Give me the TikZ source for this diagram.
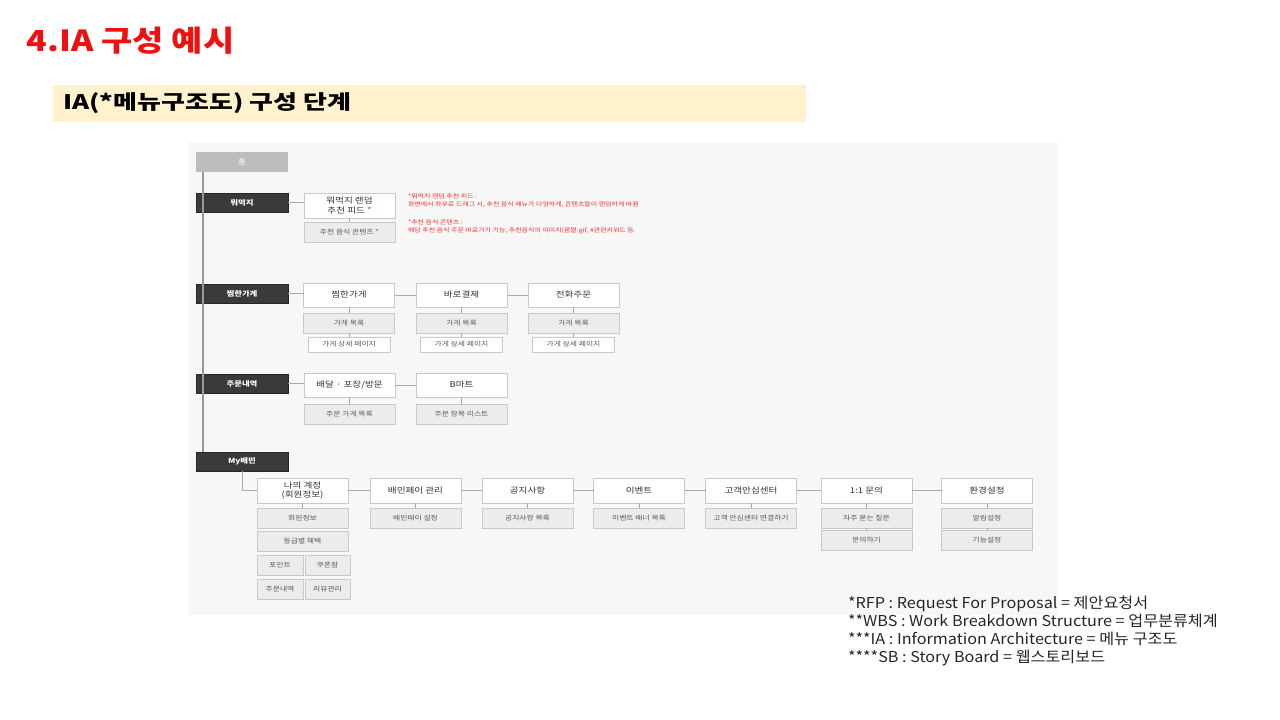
\documentclass[tikz,border=0pt]{standalone}
\usepackage{fontspec}
\setmainfont{Noto Sans CJK KR}
\newfontfamily\krtitle[FakeStretch=1.17]{Noto Sans CJK KR}
\newfontfamily\krsub[FakeStretch=1.3]{Noto Sans CJK KR}
\newfontfamily\krfoot[FakeStretch=1.08]{Noto Sans CJK KR}
\newfontfamily\krd[FakeStretch=1.2]{Noto Sans CJK KR}
\usetikzlibrary{calc}
\definecolor{titlered}{HTML}{F01010}
\definecolor{band}{HTML}{FFF2CC}
\definecolor{diagbg}{HTML}{F7F7F7}
\definecolor{catfill}{HTML}{3A3A3A}
\definecolor{homefill}{HTML}{BDBDBD}
\definecolor{boxline}{HTML}{C9C9C9}
\definecolor{subfill}{HTML}{ECECEC}
\definecolor{wire}{HTML}{AAAAAA}
\definecolor{notered}{HTML}{F03030}
\tikzset{
  every node/.style={inner sep=0pt, outer sep=0pt},
  homebox/.style={fill=homefill, text=white, minimum width=92pt, minimum height=20pt, font=\krd\fontsize{7}{8}\selectfont},
  catbox/.style={fill=catfill, draw=black!85, text=white, minimum width=92pt, minimum height=19pt, font=\krd\bfseries\fontsize{7}{8}\selectfont},
  mainbox/.style={fill=white, draw=boxline, minimum width=91pt, minimum height=25pt, align=center, text=black!80, font=\krd\fontsize{8}{9.5}\selectfont},
  subbox/.style={fill=subfill, draw=boxline, minimum width=91pt, minimum height=20pt, text=black!65, font=\krd\fontsize{6.5}{8}\selectfont},
  detailbox/.style={fill=white, draw=boxline, minimum width=82pt, minimum height=15pt, text=black!65, font=\krd\fontsize{6.5}{8}\selectfont},
  wirel/.style={draw=wire, line width=0.9pt},
  spine/.style={draw=black!40, line width=1.6pt},
  note/.style={anchor=north west, align=left, text=notered, font=\krd\fontsize{5.8}{8}\selectfont}
}
\begin{document}
\begin{tikzpicture}[x=1pt,y=-1pt]
\useasboundingbox (0,0) rectangle (1280,720);
\fill[white] (0,0) rectangle (1280,720);
% title
\node[anchor=west, text=titlered, font=\krtitle\bfseries\fontsize{29}{32}\selectfont] (title) at (27,41) {4.IA 구성 예시};
% band
\fill[band] (53,85) rectangle (806,122);
\node[anchor=west, text=black, font=\krsub\bfseries\fontsize{20}{24}\selectfont] (subtitle) at (63,103) {IA(*메뉴구조도) 구성 단계};
% diagram background
\fill[diagbg] (188,142) rectangle (1058,615);

% home and categories
\node[homebox] (home) at (242,162) {홈};
\node[catbox] (c1) at (242,202.5) {뭐먹지};
\node[catbox] (c2) at (242,293.5) {찜한가게};
\node[catbox] (c3) at (242,383.5) {주문내역};
\node[catbox] (c4) at (242,461.5) {My배민};
\draw[spine] ($(home.south west)+(7,0)$) -- ($(c4.north west)+(7,0)$);

% 뭐먹지
\node[mainbox] (feed) at (349.5,205.5) {뭐먹지 랜덤\\추천 피드 {\color{notered}*}};
\node[subbox] (content) at (349.5,232) {추천 음식 콘텐츠 {\color{notered}*}};
\draw[wirel] (c1.east) -- (c1.east -| feed.west);
\draw[wirel] (feed.south) -- (content.north);
\node[note] (note1) at (408,194) {*뭐먹지 랜덤 추천 피드 :\\ 화면에서 좌우로 드래그 시, 추천 음식 메뉴가 다양하게, 콘텐츠들이 랜덤하게 바뀜};
\node[note] (note2) at (408,220) {*추천 음식 콘텐츠 :\\ 해당 추천 음식 주문 바로가기 기능, 추천음식의 이미지(움짤.gif, \#관련키워드 등.};

% 찜한가게
\node[mainbox, minimum height=24pt] (z1) at (349,295) {찜한가게};
\node[mainbox, minimum height=24pt] (z2) at (461.5,295) {바로결제};
\node[mainbox, minimum height=24pt] (z3) at (573.5,295) {전화주문};
\draw[wirel] (c2.east) -- (c2.east -| z1.west);
\draw[wirel] (z1.east) -- (z2.west);
\draw[wirel] (z2.east) -- (z3.west);
\foreach \i in {1,2,3}{
  \node[subbox] (zl\i) at ($(z\i)+(0,28)$) {가게 목록};
  \node[detailbox] (zd\i) at ($(z\i)+(0,49.5)$) {가게 상세 페이지};
  \draw[wirel] (z\i.south) -- (zl\i.north);
  \draw[wirel] (zl\i.south) -- (zd\i.north);
}

% 주문내역
\node[mainbox, minimum height=24pt] (o1) at (349.5,385) {배달 · 포장/방문};
\node[mainbox, minimum height=24pt] (o2) at (461.5,385) {B마트};
\node[subbox] (ol1) at (349.5,414) {주문 가게 목록};
\node[subbox] (ol2) at (461.5,414) {주문 항목 리스트};
\draw[wirel] (c3.east) -- (c3.east -| o1.west);
\draw[wirel] (o1.east) -- (o2.west);
\draw[wirel] (o1.south) -- (ol1.north);
\draw[wirel] (o2.south) -- (ol2.north);

% My배민
\node[mainbox] (m1) at (302.5,490.5) {나의 계정\\(회원정보)};
\node[mainbox] (m2) at (415.5,490.5) {배민페이 관리};
\node[mainbox] (m3) at (527.5,490.5) {공지사항};
\node[mainbox] (m4) at (639,490.5) {이벤트};
\node[mainbox] (m5) at (751,490.5) {고객안심센터};
\node[mainbox] (m6) at (866.5,490.5) {1:1 문의};
\node[mainbox] (m7) at (987,490.5) {환경설정};
\draw[wirel] (c4.south) |- (m1.west);
\draw[wirel] (m1.east) -- (m2.west);
\draw[wirel] (m2.east) -- (m3.west);
\draw[wirel] (m3.east) -- (m4.west);
\draw[wirel] (m4.east) -- (m5.west);
\draw[wirel] (m5.east) -- (m6.west);
\draw[wirel] (m6.east) -- (m7.west);

\node[subbox] (a1) at (302.5,518) {회원정보};
\node[subbox] (a2) at (302.5,541) {등급별 혜택};
\node[subbox, minimum width=46pt] (a3) at (280,565) {포인트};
\node[subbox, minimum width=45pt] (a4) at (327.5,565) {쿠폰함};
\node[subbox, minimum width=46pt] (a5) at (280,589) {주문내역};
\node[subbox, minimum width=45pt] (a6) at (327.5,589) {리뷰관리};
\draw[wirel] (m1.south) -- (a1.north);

\node[subbox] (p1) at (415.5,518) {배민페이 설정};
\node[subbox] (n1) at (527.5,518) {공지사항 목록};
\node[subbox] (e1) at (639,518) {이벤트 배너 목록};
\node[subbox] (s1) at (751,518) {고객 안심센터 연결하기};
\node[subbox] (q1) at (866.5,518) {자주 묻는 질문};
\node[subbox] (q2) at (866.5,540) {문의하기};
\node[subbox] (g1) at (987,518) {알림설정};
\node[subbox] (g2) at (987,540) {기능설정};
\draw[wirel] (m2.south) -- (p1.north);
\draw[wirel] (m3.south) -- (n1.north);
\draw[wirel] (m4.south) -- (e1.north);
\draw[wirel] (m5.south) -- (s1.north);
\draw[wirel] (m6.south) -- (q1.north);
\draw[wirel] (q1.south) -- (q2.north);
\draw[wirel] (m7.south) -- (g1.north);
\draw[wirel] (g1.south) -- (g2.north);

% footnotes
\node[anchor=north west, align=left, text=black!85, font=\krfoot\fontsize{15}{18}\selectfont] (foot) at (848,596)
{*RFP : Request For Proposal = 제안요청서\\
**WBS : Work Breakdown Structure = 업무분류체계\\
***IA : Information Architecture = 메뉴 구조도\\
****SB : Story Board = 웹스토리보드};
\end{tikzpicture}
\end{document}
